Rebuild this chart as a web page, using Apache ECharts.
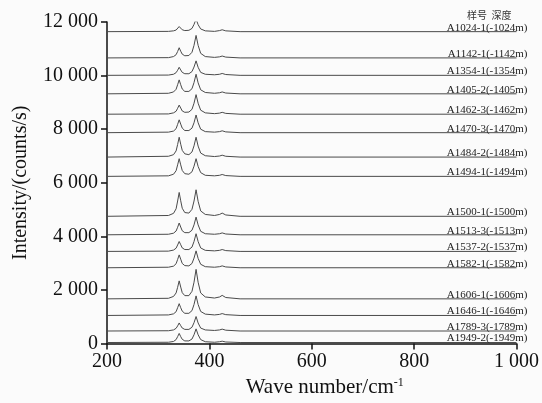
<!DOCTYPE html>
<html>
<head>
<meta charset="utf-8">
<script src="https://cdn.jsdelivr.net/npm/echarts@6/dist/echarts.min.js"></script>
<style>
html,body{margin:0;padding:0;background:#fbfbfb;}
#chart{width:542px;height:403px;}
</style>
</head>
<body>
<div id="chart"></div>
<script>
// Raman shift sample positions (cm^-1)
const wavenumbers = [200, 320, 330, 335, 338, 341, 344, 347, 352, 360, 366, 370, 374, 378, 383, 392, 410, 420, 425, 432, 460, 1000];

// Sample labels (top to bottom)
const sampleLabels = [
  'A1024-1(-1024m)', 'A1142-1(-1142m)', 'A1354-1(-1354m)', 'A1405-2(-1405m)',
  'A1462-3(-1462m)', 'A1470-3(-1470m)', 'A1484-2(-1484m)', 'A1494-1(-1494m)',
  'A1500-1(-1500m)', 'A1513-3(-1513m)', 'A1537-2(-1537m)', 'A1582-1(-1582m)',
  'A1606-1(-1606m)', 'A1646-1(-1646m)', 'A1789-3(-1789m)', 'A1949-2(-1949m)'
];
const headerText = '样号  深度';

// Baseline offsets of each stacked spectrum (counts/s)
const baselines = [11640, 10660, 10010, 9320, 8560, 7870, 6960, 6240, 4750, 4060, 3440, 2830, 1670, 1050, 470, 40];

// Intensities above baseline, read at the wavenumbers above
const relA1024 = [0, 10, 30, 60, 120, 190, 130, 70, 40, 50, 120, 270, 470, 260, 100, 30, 10, 40, 70, 30, 0, 0];
const relA1142 = [0, 10, 50, 120, 240, 380, 250, 140, 80, 90, 210, 470, 840, 470, 170, 50, 20, 40, 70, 30, 0, 0];
const relA1354 = [0, 10, 40, 100, 190, 300, 200, 110, 60, 60, 140, 310, 540, 300, 110, 40, 20, 40, 70, 30, 0, 0];
const relA1405 = [0, 20, 70, 170, 340, 520, 340, 180, 90, 90, 190, 420, 730, 410, 150, 50, 20, 40, 70, 30, 0, 0];
const relA1462 = [0, 10, 50, 110, 220, 340, 230, 120, 70, 80, 180, 410, 730, 410, 150, 50, 20, 40, 70, 30, 0, 0];
const relA1470 = [0, 20, 60, 150, 310, 480, 320, 170, 80, 80, 170, 370, 660, 370, 130, 40, 20, 40, 70, 30, 0, 0];
const relA1484 = [0, 30, 90, 230, 470, 740, 480, 250, 120, 90, 190, 420, 740, 410, 150, 50, 20, 40, 70, 30, 0, 0];
const relA1494 = [0, 20, 80, 210, 430, 660, 430, 220, 100, 80, 170, 380, 660, 370, 140, 40, 20, 40, 70, 30, 0, 0];
const relA1500 = [0, 30, 110, 280, 570, 890, 580, 300, 140, 120, 260, 570, 990, 560, 200, 70, 30, 70, 120, 50, 0, 0];
const relA1513 = [0, 20, 60, 140, 280, 440, 290, 150, 80, 80, 170, 370, 660, 370, 130, 40, 20, 40, 70, 30, 0, 0];
const relA1537 = [0, 10, 50, 120, 240, 370, 250, 130, 70, 70, 160, 370, 660, 370, 130, 40, 20, 40, 70, 30, 0, 0];
const relA1582 = [0, 20, 60, 150, 310, 480, 320, 160, 80, 70, 160, 360, 630, 350, 130, 40, 20, 40, 70, 30, 0, 0];
const relA1606 = [0, 20, 90, 220, 430, 670, 440, 230, 120, 120, 280, 620, 1100, 620, 220, 70, 30, 70, 130, 50, 0, 0];
const relA1646 = [0, 20, 60, 140, 290, 440, 290, 160, 80, 80, 180, 410, 730, 410, 150, 50, 20, 40, 70, 30, 0, 0];
const relA1789 = [0, 10, 40, 100, 190, 300, 200, 110, 60, 60, 140, 310, 540, 300, 110, 40, 20, 40, 70, 30, 0, 0];
const relA1949 = [0, 10, 40, 110, 220, 340, 220, 120, 60, 60, 130, 290, 510, 290, 110, 30, 10, 30, 50, 20, 0, 0];

const relSeries = [relA1024, relA1142, relA1354, relA1405, relA1462, relA1470, relA1484, relA1494,
  relA1500, relA1513, relA1537, relA1582, relA1606, relA1646, relA1789, relA1949];

const serif = "'Liberation Serif', 'Times New Roman', serif";
const fmt = v => String(v).replace(/\B(?=(\d{3})+(?!\d))/g, ' ');

const series = relSeries.map((rel, i) => {
  const base = baselines[i];
  const labelFormatter = i === 0
    ? '{h|' + headerText + '}\n{l|' + sampleLabels[i] + '}'
    : '{l|' + sampleLabels[i] + '}';
  return {
    type: 'line',
    name: sampleLabels[i],
    data: wavenumbers.map((x, k) => [x, base + rel[k]]),
    showSymbol: false,
    symbol: 'none',
    lineStyle: { color: '#4a4a4a', width: 1 },
    silent: true,
    markPoint: {
      symbol: 'rect',
      symbolSize: 2,
      itemStyle: { color: 'rgba(0,0,0,0)' },
      silent: true,
      data: [{ coord: [1000, base] }],
      label: {
        show: true,
        position: [12, 3],
        align: 'right',
        verticalAlign: 'bottom',
        formatter: labelFormatter,
        rich: {
          l: { fontFamily: serif, fontSize: 11, color: '#222', lineHeight: 12 },
          h: { fontFamily: "'Noto Sans CJK SC', sans-serif", fontSize: 10, color: '#333', lineHeight: 12, padding: [0, 16, 0, 0] }
        }
      }
    }
  };
});

const chart = echarts.init(document.getElementById('chart'), null, { renderer: 'canvas' });
chart.setOption({
  backgroundColor: '#fbfbfb',
  animation: false,
  grid: { left: 107, right: 23, top: 22, bottom: 50 },
  xAxis: {
    type: 'value',
    min: 200, max: 1000, interval: 200,
    name: '{a|Wave number/cm}{s|-1}',
    nameLocation: 'middle',
    nameGap: 31,
    nameTextStyle: {
      padding: [0, 0, 0, 26],
      rich: {
        a: { fontFamily: serif, fontSize: 21, color: '#111' },
        s: { fontFamily: serif, fontSize: 12, color: '#111', verticalAlign: 'top', padding: [0, 0, 10, 0] }
      }
    },
    axisLine: { lineStyle: { color: '#111', width: 1.5 } },
    axisTick: { show: true, length: 6, lineStyle: { color: '#111', width: 1.5 } },
    axisLabel: { fontFamily: serif, fontSize: 20, color: '#111', margin: 8, formatter: fmt },
    splitLine: { show: false }
  },
  yAxis: {
    type: 'value',
    min: 0, max: 12000, interval: 2000,
    name: 'Intensity/(counts/s)',
    nameLocation: 'middle',
    nameGap: 68,
    nameTextStyle: { fontFamily: serif, fontSize: 20, color: '#111', padding: [0, 0, 8, 0] },
    axisLine: { show: true, lineStyle: { color: '#111', width: 1.5 } },
    axisTick: { show: true, length: 6, lineStyle: { color: '#111', width: 1.5 } },
    axisLabel: { fontFamily: serif, fontSize: 20, color: '#111', margin: 9, formatter: fmt },
    splitLine: { show: false }
  },
  series: series
});
</script>
</body>
</html>
